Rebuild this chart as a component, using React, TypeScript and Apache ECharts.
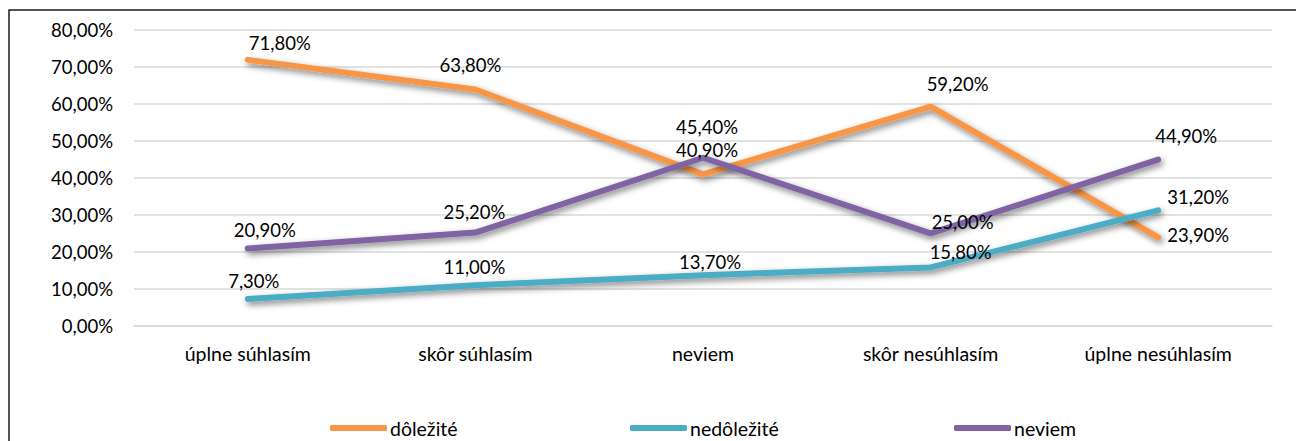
import React, { useEffect, useRef } from "react";
import * as echarts from "echarts";

const categories = ["úplne súhlasím", "skôr súhlasím", "neviem", "skôr nesúhlasím", "úplne nesúhlasím"];
const seriesNames = ["dôležité", "nedôležité", "neviem"];
const dolezite = [71.8, 63.8, 40.9, 59.2, 23.9];
const nedolezite = [7.3, 11.0, 13.7, 15.8, 31.2];
const neviem = [20.9, 25.2, 45.4, 25.0, 44.9];
const yTicks = { min: 0, max: 80, interval: 10 };

// label offsets (dx, dy) from the point, in pixels
const offDolezite = [[32, -17], [-5, -25], [4, -24], [27, -23], [40, -2]];
const offNedolezite = [[6, -18], [-1, -18], [7, -13], [30, -15], [40, -13]];
const offNeviem = [[17, -19], [-1, -21], [4, -31], [32, -11], [28, -24]];

const colors = ["#F79646", "#4BACC6", "#8064A2"];
const FONT = "Lato";
const FS = 18.5;
const FS_TEXT = 19.5;

const fmt = (v: number) => v.toFixed(2).replace(".", ",") + "%";

function makeSeries(name: string, values: number[], offs: number[][], color: string) {
  return {
    name,
    type: "line",
    data: values.map((v, i) => ({
      value: v,
      label: {
        show: true,
        position: "inside",
        offset: offs[i],
        formatter: (p: any) => fmt(p.value),
        color: "#000",
        fontFamily: FONT,
        fontSize: FS,
      },
    })),
    symbol: "circle",
    symbolSize: 1,
    showSymbol: true,
    itemStyle: { color },
    lineStyle: {
      color,
      width: 6,
      cap: "round",
      join: "round",
      shadowColor: "rgba(0,0,0,0.5)",
      shadowBlur: 6,
      shadowOffsetX: 2,
      shadowOffsetY: 3,
    },
    emphasis: { disabled: true },
    z: 2,
  };
}

export default function App() {
  const ref = useRef<HTMLDivElement>(null);
  useEffect(() => {
    document.body.style.margin = "0";
    if (!ref.current) return;
    const chart = echarts.init(ref.current, undefined, { renderer: "svg" });
    const legendItem = (name: string, left: number) => ({
      data: [name],
      left,
      top: 418,
      icon: "roundRect",
      itemWidth: 57,
      itemHeight: 6,
      itemGap: 0,
      padding: 0,
      textStyle: { color: "#000", fontFamily: FONT, fontSize: FS_TEXT, padding: [0, 0, 0, -2] },
      selectedMode: false,
    });
    chart.setOption({
      animation: false,
      backgroundColor: "#fff",
      textStyle: { fontFamily: FONT },
      grid: { left: 134, right: 24, top: 29.5, bottom: 115 },
      legend: [
        legendItem(seriesNames[0], 330),
        legendItem(seriesNames[1], 630),
        legendItem(seriesNames[2], 954),
      ],
      xAxis: {
        type: "category",
        data: categories,
        boundaryGap: true,
        axisLine: { show: true, lineStyle: { color: "#D9D9D9", width: 1.5 } },
        axisTick: { show: false },
        axisLabel: { color: "#000", fontFamily: FONT, fontSize: FS_TEXT, margin: 17 },
      },
      yAxis: {
        type: "value",
        min: yTicks.min,
        max: yTicks.max,
        interval: yTicks.interval,
        axisLine: { show: false },
        axisTick: { show: false },
        splitLine: { lineStyle: { color: "#D9D9D9", width: 1.5 } },
        axisLabel: { color: "#000", fontFamily: FONT, fontSize: FS, margin: 21, formatter: (v: number) => fmt(v) },
      },
      graphic: [
        {
          type: "rect",
          shape: { x: 9, y: 10, width: 1400, height: 600 },
          style: { fill: "none", stroke: "#1a1a1a", lineWidth: 1.5 },
          silent: true,
          z: 100,
        },
      ],
      series: [
        makeSeries(seriesNames[0], dolezite, offDolezite, colors[0]),
        makeSeries(seriesNames[1], nedolezite, offNedolezite, colors[1]),
        makeSeries(seriesNames[2], neviem, offNeviem, colors[2]),
      ],
    });
    return () => chart.dispose();
  }, []);
  return <div ref={ref} style={{ width: 1296, height: 441 }} />;
}
